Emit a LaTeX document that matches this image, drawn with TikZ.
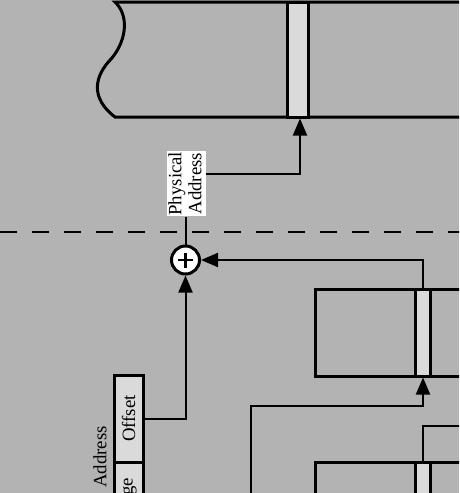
\documentclass[tikz,border=0pt]{standalone}
\usepackage{fontspec}
\setmainfont{Liberation Serif}
\usetikzlibrary{arrows.meta,calc}
\definecolor{bgc}{RGB}{179,179,179}
\definecolor{lightc}{RGB}{218,218,218}
\begin{document}
\begin{tikzpicture}[x=1pt,y=-1pt,
  thickline/.style={line width=3pt,line join=miter},
  wire/.style={line width=2pt},
  conn/.style={line width=2pt,-{Triangle[length=17pt,width=14pt]}},
  stripebox/.style={draw,line width=3pt,fill=lightc,inner sep=0pt},
  cellbox/.style={draw,line width=3pt,fill=lightc,inner sep=0pt,rotate=90,font=\fontsize{18.8}{20}\selectfont},
  lbl/.style={rotate=90,font=\fontsize{18.8}{20}\selectfont,inner sep=0.8pt}]
\useasboundingbox[fill=bgc] (0,0) rectangle (459,493);
\clip (0,0) rectangle (459,493);

% top memory block
\draw[thickline] (462,2) -- (115,2)
  .. controls (128,14) and (128,38) .. (112,58)
  .. controls (94,76) and (90,98) .. (115,117) -- (462,117);
\node[stripebox,minimum width=21pt,minimum height=115pt] (ts) at (297.5,59.5) {};

% dashed separator
\draw[line width=2pt,dash pattern=on 17pt off 15pt] (0,232) -- (462,232);

% physical address label
\node[lbl,fill=white,align=center] (pa) at (186.5,183.7) {Physical\\Address\rule[-3.5pt]{0pt}{0pt}};
\draw[conn] ([yshift=9.5pt]pa.south) -| ([xshift=2.5pt]ts.south);

% adder
\node[circle,draw,line width=3pt,fill=white,minimum size=28pt,inner sep=0pt] (circ) at (185.5,260) {};
\draw[line width=2.6pt] ($(circ.center)+(-7.5,0)$) -- ($(circ.center)+(7.5,0)$);
\draw[line width=2.6pt] ($(circ.center)+(0,-7.5)$) -- ($(circ.center)+(0,7.5)$);
\draw[wire] (pa.west -| circ.north) -- (circ.north);

% middle block
\draw[thickline] (462,289) -- (315,289) -- (315,376) -- (462,376);
\node[stripebox,minimum width=15pt,minimum height=87pt] (ms) at (423,332.5) {};
\draw[conn] (ms.north) |- (circ.east);

% lower block
\draw[thickline] (462,462) -- (315,462) -- (315,500);
\node[stripebox,minimum width=15pt,minimum height=48pt] (ls) at (423,486) {};
\coordinate (rightend) at (462,426);
\draw[wire] (ls.north) |- (rightend);

% connector into middle stripe
\coordinate (lowstart) at (251,500);
\draw[conn] (lowstart) |- ($(ms.south)+(0,28)$) -- (ms.south);

% address fields
\node[cellbox,minimum width=87pt,minimum height=29pt] (off) at (128.5,418.5) {Offset};
\node[cellbox,minimum width=68pt,minimum height=29pt] (pg) at (128.5,496) {Page};
\node[lbl] (addr) at (100,457) {Address};
\draw[conn] (off.south) -| (circ.south);
\end{tikzpicture}
\end{document}
